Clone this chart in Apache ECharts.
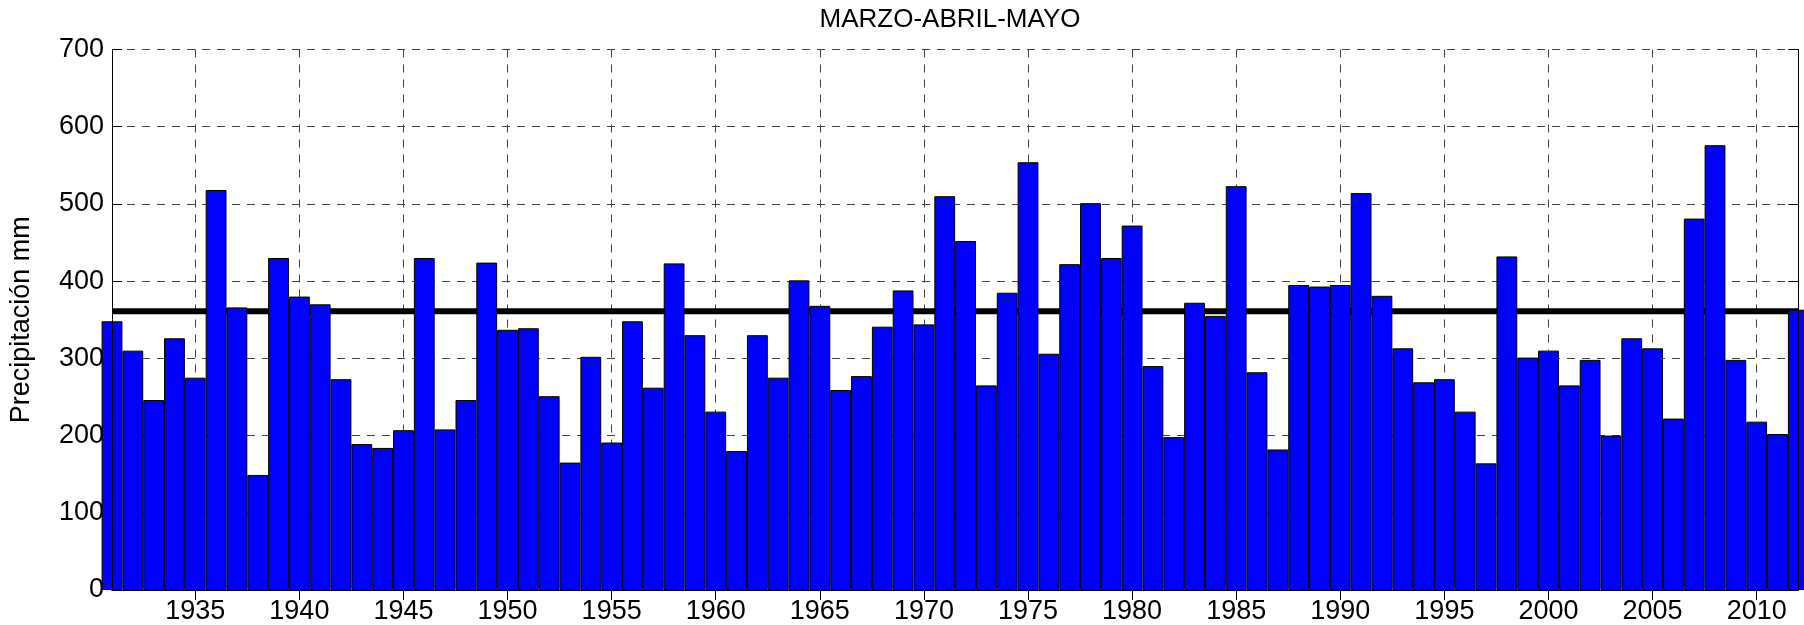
<!DOCTYPE html>
<html>
<head>
<meta charset="utf-8">
<script src="https://cdn.jsdelivr.net/npm/echarts@6/dist/echarts.min.js"></script>
<style>
html, body { margin: 0; padding: 0; background: #fff; }
#chart { width: 1804px; height: 625px; }
</style>
</head>
<body>
<div id="chart"></div>
<script>
const titleText = 'MARZO-ABRIL-MAYO';
const yAxisName = 'Precipitación mm';

const years = [
  '1931','1932','1933','1934','1935','1936','1937','1938','1939','1940',
  '1941','1942','1943','1944','1945','1946','1947','1948','1949','1950',
  '1951','1952','1953','1954','1955','1956','1957','1958','1959','1960',
  '1961','1962','1963','1964','1965','1966','1967','1968','1969','1970',
  '1971','1972','1973','1974','1975','1976','1977','1978','1979','1980',
  '1981','1982','1983','1984','1985','1986','1987','1988','1989','1990',
  '1991','1992','1993','1994','1995','1996','1997','1998','1999','2000',
  '2001','2002','2003','2004','2005','2006','2007','2008','2009','2010',
  '2011','2012'
];

const precipitation = [
  348, 310, 246, 326, 275, 518, 366, 149, 430, 380,
  370, 273, 189, 184, 207, 430, 208, 246, 424, 337,
  339, 251, 165, 302, 191, 348, 262, 423, 330, 231,
  180, 330, 275, 401, 368, 259, 277, 341, 388, 344,
  510, 452, 265, 385, 554, 306, 422, 501, 430, 472,
  290, 198, 372, 355, 523, 282, 182, 395, 393, 395,
  514, 381, 313, 269, 273, 231, 164, 432, 301, 310,
  265, 298, 200, 326, 313, 222, 481, 576, 298, 218,
  202, 363
];

const meanValue = 361;

const yMin = 0, yMax = 700, yStep = 100;
const labelYearStep = 5;

const FONT = '"Liberation Sans", Arial, Helvetica, sans-serif';
const showYear = (idx, val) => Number(val) % labelYearStep === 0;

const firstYear = Number(years[0]);
const lastYear = Number(years[years.length - 1]);
const barData = years.map((y, i) => [Number(y), precipitation[i]]);

const chart = echarts.init(document.getElementById('chart'), null, { renderer: 'canvas' });

const yBase = { type: 'value', min: yMin, max: yMax, interval: yStep, gridIndex: 0 };

chart.setOption({
  animation: false,
  backgroundColor: '#ffffff',
  title: {
    text: titleText,
    left: 950,
    top: 7,
    padding: 0,
    textAlign: 'center',
    textStyle: { fontFamily: FONT, fontSize: 26, fontWeight: 'normal', color: '#000' }
  },
  grid: { left: 101.7, right: 5.7, top: 49.5, bottom: 34, containLabel: false },
  xAxis: [
    {
      type: 'value', min: firstYear, max: lastYear, show: false, position: 'bottom'
    },
    {
      type: 'category', data: years, boundaryGap: false, position: 'bottom', z: 0,
      axisLine: { show: true, lineStyle: { color: '#000', width: 1 } },
      axisTick: { show: true, inside: true, length: 10, interval: showYear, lineStyle: { color: '#000' } },
      axisLabel: { show: true, interval: showYear, margin: 8, fontFamily: FONT, fontSize: 27, color: '#000' },
      splitLine: { show: true, interval: showYear, lineStyle: { color: '#444', width: 1, type: [8, 7] } }
    },
    {
      type: 'category', data: years, boundaryGap: false, position: 'top', z: 0,
      axisLine: { show: true, lineStyle: { color: '#000', width: 1 } },
      axisTick: { show: true, inside: true, length: 10, interval: showYear, lineStyle: { color: '#000' } },
      axisLabel: { show: false },
      splitLine: { show: false }
    }
  ],
  yAxis: [
    Object.assign({}, yBase, {
      position: 'left', z: 0,
      name: yAxisName, nameLocation: 'middle', nameGap: 77,
      nameTextStyle: { fontFamily: FONT, fontSize: 27, color: '#000' },
      axisLine: { show: false },
      axisTick: { show: true, inside: true, length: 10, lineStyle: { color: '#000' } },
      axisLabel: { show: true, margin: 8, fontFamily: FONT, fontSize: 27, color: '#000' },
      splitLine: { show: true, lineStyle: { color: '#444', width: 1, type: [8, 7] } }
    }),
    Object.assign({}, yBase, {
      position: 'right', z: 0,
      axisLine: { show: false },
      axisTick: { show: true, inside: true, length: 10, lineStyle: { color: '#000' } },
      axisLabel: { show: false },
      splitLine: { show: false }
    }),
    Object.assign({}, yBase, {
      position: 'left', z: 6,
      axisLine: { show: true, onZero: false, lineStyle: { color: '#000', width: 1 } },
      axisTick: { show: false }, axisLabel: { show: false }, splitLine: { show: false }
    }),
    Object.assign({}, yBase, {
      position: 'right', z: 6,
      axisLine: { show: true, onZero: false, lineStyle: { color: '#000', width: 1 } },
      axisTick: { show: false }, axisLabel: { show: false }, splitLine: { show: false }
    })
  ],
  series: [
    {
      name: 'media',
      type: 'line',
      xAxisIndex: 0, yAxisIndex: 0,
      z: 1,
      symbol: 'none',
      silent: true,
      lineStyle: { color: '#000', width: 6 },
      data: [[firstYear, meanValue], [lastYear, meanValue]]
    },
    {
      name: 'precipitación',
      type: 'bar',
      xAxisIndex: 0, yAxisIndex: 0,
      z: 2,
      barWidth: '100%',
      barCategoryGap: '0%',
      clip: true,
      itemStyle: { color: '#0000ff', borderColor: '#000', borderWidth: 1 },
      data: barData
    }
  ]
});
</script>
</body>
</html>
